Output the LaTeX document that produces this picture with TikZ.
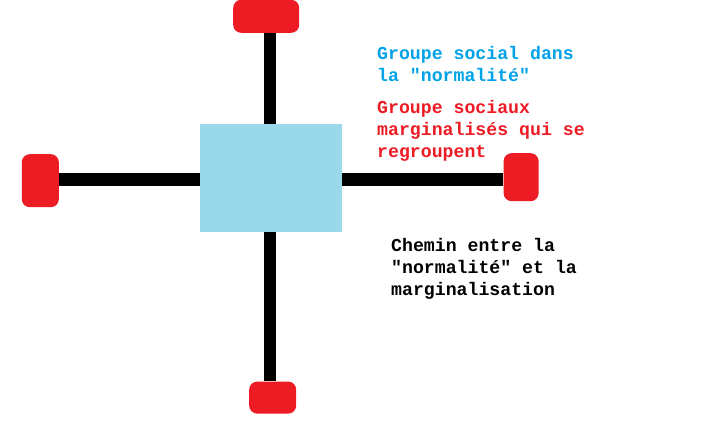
\documentclass[tikz,border=0pt]{standalone}
\usepackage{fontspec}
\newfontfamily\paintfont{Liberation Mono}
\usetikzlibrary{positioning}
\definecolor{paintred}{HTML}{ED1C24}
\definecolor{paintblue}{HTML}{00A2E8}
\definecolor{paintcyan}{HTML}{99D9EA}
\tikzset{
    groupe/.style={
        rectangle,
        fill=paintcyan,
        draw=none,
        inner sep=0pt,
        minimum width=142pt,
        minimum height=108pt
    },
    marge/.style={
        rectangle,
        rounded corners=8pt,
        fill=paintred,
        draw=none,
        inner sep=0pt
    },
    chemin/.style={
        line width=12.5pt,
        black
    },
    legende/.style={
        anchor=base west,
        align=left,
        inner sep=0pt,
        font=\paintfont\bfseries\fontsize{18.2}{21.8}\selectfont
    },
}

\begin{document}
\begin{tikzpicture}[x=1pt, y=-1pt]
\useasboundingbox[fill=white] (0,0) rectangle (727,436);

% Connections (drawn first, under the nodes)
\coordinate (vhaut) at (270,33);
\coordinate (vbas) at (270,381);
\coordinate (hgauche) at (59,179.5);
\coordinate (hdroite) at (503,179.5);
\draw[chemin] (vhaut) -- (vbas);
\draw[chemin] (hgauche) -- (hdroite);

% Central group
\node[groupe, anchor=north west] (centre) at (200,124) {};

% Marginal groups
\node[marge, minimum width=66pt, minimum height=33pt, above=91pt of centre, xshift=-5pt] (haut) {};
\node[marge, minimum width=37pt, minimum height=53pt, left=141pt of centre, yshift=-2.5pt] (gauche) {};
\node[marge, minimum width=35pt, minimum height=48pt, right=161pt of centre, yshift=1pt] (droite) {};
\node[marge, minimum width=47pt, minimum height=32pt, below=149pt of centre, xshift=1.5pt] (bas) {};

% Legend (anchored on the baseline of the last line)
\node[legende, text=paintblue] (normal) at (377,81.5) {Groupe social dans\\la "normalité"};
\node[legende, text=paintred] (marginal) at (377,157) {Groupe sociaux\\marginalisés qui se\\regroupent};
\node[legende, text=black] (cheminlabel) at (391,295.5) {Chemin entre la\\"normalité" et la\\marginalisation};

\end{tikzpicture}
\end{document}
